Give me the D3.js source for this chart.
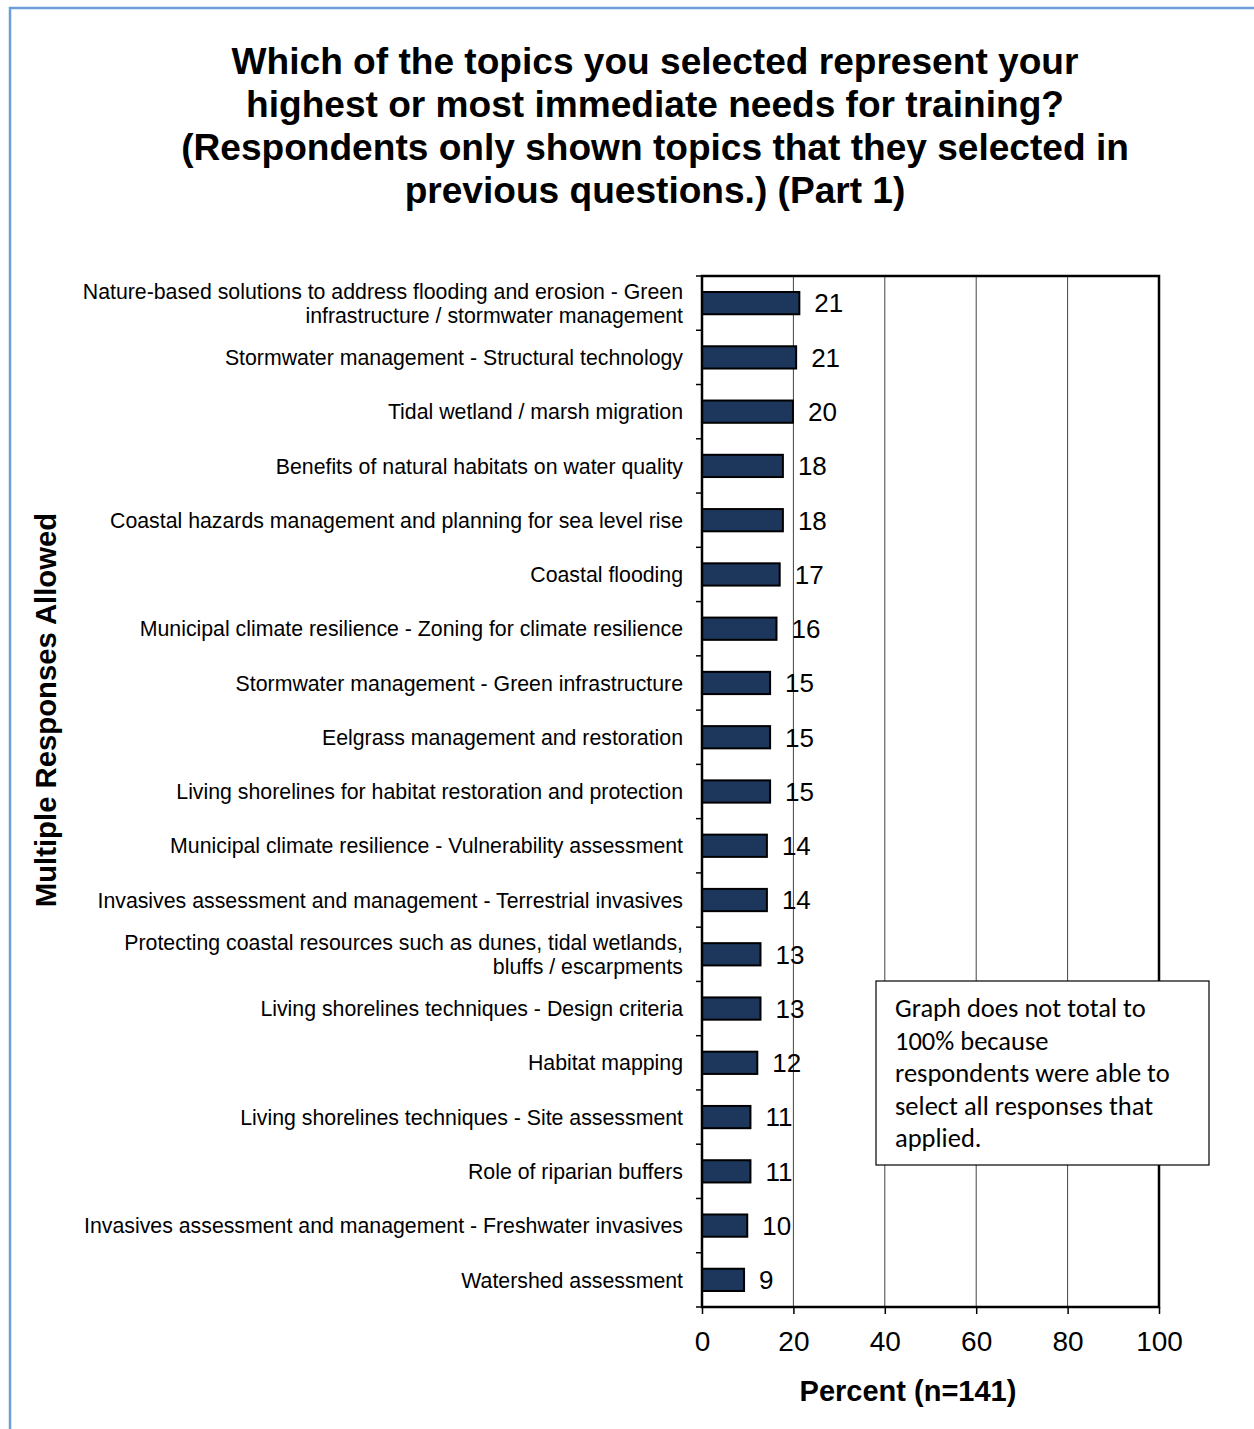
<!DOCTYPE html>
<html>
<head>
<meta charset="utf-8">
<script src="https://cdn.jsdelivr.net/npm/d3@7"></script>
<style>
  body { margin: 0; background: #fff; }
  svg { display: block; font-family: "Liberation Sans", Arial, sans-serif; }
</style>
</head>
<body>
<svg id="mount" width="1254" height="1429"></svg>
<script>
var barColor = "#1c365c";

var categories = [
  ["Nature-based solutions to address flooding and erosion - Green", "infrastructure / stormwater management"],
  ["Stormwater management - Structural technology"],
  ["Tidal wetland / marsh migration"],
  ["Benefits of natural habitats on water quality"],
  ["Coastal hazards management and planning for sea level rise"],
  ["Coastal flooding"],
  ["Municipal climate resilience - Zoning for climate resilience"],
  ["Stormwater management - Green infrastructure"],
  ["Eelgrass management and restoration"],
  ["Living shorelines for habitat restoration and protection"],
  ["Municipal climate resilience - Vulnerability assessment"],
  ["Invasives assessment and management - Terrestrial invasives"],
  ["Protecting coastal resources such as dunes, tidal wetlands,", "bluffs / escarpments"],
  ["Living shorelines techniques - Design criteria"],
  ["Habitat mapping"],
  ["Living shorelines techniques - Site assessment"],
  ["Role of riparian buffers"],
  ["Invasives assessment and management - Freshwater invasives"],
  ["Watershed assessment"]
];
var values = [21.3, 20.6, 19.9, 17.7, 17.7, 17.0, 16.3, 14.9, 14.9, 14.9, 14.2, 14.2, 12.8, 12.8, 12.1, 10.6, 10.6, 9.9, 9.2];
var valueLabels = [21, 21, 20, 18, 18, 17, 16, 15, 15, 15, 14, 14, 13, 13, 12, 11, 11, 10, 9];
var xTicks = [0, 20, 40, 60, 80, 100];
var titleLines = [
  "Which of the topics you selected represent your",
  "highest or most immediate needs for training?",
  "(Respondents only shown topics that they selected in",
  "previous questions.) (Part 1)"
];
var noteLines = [
  "Graph does not total to",
  "100% because",
  "respondents were able to",
  "select all responses that",
  "applied."
];

var svg = d3.select("#mount");

// outer frame (blue, open at right and bottom)
svg.append("path")
  .attr("d", "M10,1429 V8 H1254")
  .attr("fill", "none")
  .attr("stroke", "#6d9eda")
  .attr("stroke-width", 2.5);

var margin = { top: 276, left: 702 };
var width = 457;
var height = 1031;

var g = svg.append("g")
  .attr("transform", "translate(" + margin.left + "," + margin.top + ")");

var x = d3.scaleLinear().domain([0, 100]).range([0, width]);
var y = d3.scaleBand()
  .domain(d3.range(categories.length))
  .range([0, height])
  .paddingInner(0.59)
  .paddingOuter(0.295);

// title
svg.append("text")
  .attr("x", 655)
  .attr("y", 74)
  .attr("text-anchor", "middle")
  .style("font-size", "37.1px")
  .style("font-weight", "bold")
  .selectAll("tspan")
  .data(titleLines)
  .join("tspan")
  .attr("x", 655)
  .attr("dy", function(d, i) { return i === 0 ? 0 : 43; })
  .text(function(d) { return d; });

// gridlines
g.selectAll(".grid")
  .data(xTicks.slice(1, -1))
  .join("line")
  .attr("x1", function(d) { return x(d); })
  .attr("x2", function(d) { return x(d); })
  .attr("y1", 0)
  .attr("y2", height)
  .attr("stroke", "#444")
  .attr("stroke-width", 1);

// bars
g.selectAll(".bar")
  .data(values)
  .join("rect")
  .attr("x", 0)
  .attr("y", function(d, i) { return y(i); })
  .attr("width", function(d) { return x(d); })
  .attr("height", y.bandwidth())
  .attr("fill", barColor)
  .attr("stroke", "#000")
  .attr("stroke-width", 2);

// value labels
g.selectAll(".val")
  .data(values)
  .join("text")
  .attr("x", function(d) { return x(d) + 15; })
  .attr("y", function(d, i) { return y(i) + y.bandwidth() / 2; })
  .attr("dy", "0.36em")
  .style("font-size", "26px")
  .text(function(d, i) { return valueLabels[i]; });

// plot frame
g.append("rect")
  .attr("width", width)
  .attr("height", height)
  .attr("fill", "none")
  .attr("stroke", "#000")
  .attr("stroke-width", 2.5);

// left axis ticks at band edges
var step = y.step();
g.selectAll(".ytick")
  .data(d3.range(categories.length + 1))
  .join("line")
  .attr("x1", -6)
  .attr("x2", 0)
  .attr("y1", function(d) { return d * step; })
  .attr("y2", function(d) { return d * step; })
  .attr("stroke", "#000")
  .attr("stroke-width", 1.5);

// category labels
var catText = g.selectAll(".cat")
  .data(categories)
  .join("text")
  .attr("text-anchor", "end")
  .style("font-size", "21.3px")
  .attr("transform", function(d, i) {
    var cy = y(i) + y.bandwidth() / 2 - (d.length - 1) * 12;
    return "translate(-19," + cy + ")";
  });
catText.selectAll("tspan")
  .data(function(d) { return d; })
  .join("tspan")
  .attr("x", 0)
  .attr("y", function(d, i) { return i * 24; })
  .attr("dy", "0.36em")
  .text(function(d) { return d; });

// bottom axis
var xAxis = g.append("g")
  .attr("transform", "translate(0," + height + ")")
  .call(d3.axisBottom(x).tickValues(xTicks).tickSize(7).tickPadding(17));
xAxis.select(".domain").remove();
xAxis.selectAll("line").attr("stroke", "#000").attr("stroke-width", 1.5);
xAxis.selectAll("text")
  .attr("fill", "#000")
  .style("font-size", "28px")
  .style("font-family", "Liberation Sans, Arial, sans-serif");

// axis titles
svg.append("text")
  .attr("x", 908)
  .attr("y", 1401)
  .attr("text-anchor", "middle")
  .style("font-size", "29px")
  .style("font-weight", "bold")
  .text("Percent (n=141)");

svg.append("text")
  .attr("transform", "translate(56,710) rotate(-90)")
  .attr("text-anchor", "middle")
  .style("font-size", "29.3px")
  .style("font-weight", "bold")
  .text("Multiple Responses Allowed");

// note box
var note = svg.append("g").attr("transform", "translate(876,981)");
note.append("rect")
  .attr("width", 333)
  .attr("height", 184)
  .attr("fill", "#fff")
  .attr("stroke", "#000")
  .attr("stroke-width", 1.2);
note.append("text")
  .style("font-family", "Carlito, 'Open Sans', sans-serif")
  .style("font-size", "26.5px")
  .selectAll("tspan")
  .data(noteLines)
  .join("tspan")
  .attr("x", 19)
  .attr("y", function(d, i) { return 36 + i * 32.5; })
  .text(function(d) { return d; });
</script>
</body>
</html>
